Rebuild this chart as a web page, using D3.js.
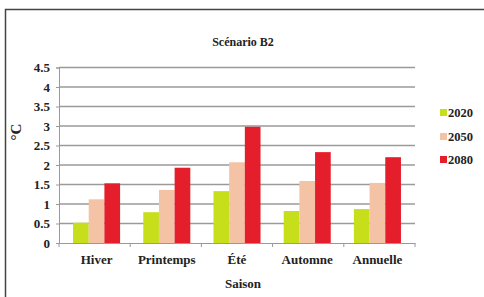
<!DOCTYPE html>
<html><head><meta charset="utf-8">
<script src="https://cdn.jsdelivr.net/npm/d3@7"></script>
<style>body{margin:0;background:#fff}svg{display:block}</style>
</head><body><svg id="c" width="484" height="297" font-family="Liberation Serif"></svg>
<script>
const categories = ["Hiver","Printemps","Été","Automne","Annuelle"];
const seriesNames = ["2020","2050","2080"];
const values2020 = [0.52,0.79,1.33,0.82,0.87];
const values2050 = [1.12,1.36,2.07,1.59,1.54];
const values2080 = [1.53,1.93,2.98,2.33,2.20];
const yTicks = [0,0.5,1,1.5,2,2.5,3,3.5,4,4.5];
const colors = ["#c6df1a","#f4c2a4","#e41e2a"];
const series = [values2020, values2050, values2080];
const FONT = "Liberation Serif";

const svg = d3.select("#c");
svg.append("rect").attr("x",5.5).attr("y",9.5).attr("width",490).attr("height",300)
  .attr("fill","none").attr("stroke","#444").attr("stroke-width",1.5);

const x0 = d3.scaleBand().domain(categories).range([59,415]).paddingInner(0.33).paddingOuter(0.2);
const x1 = d3.scaleBand().domain(seriesNames).range([0,x0.bandwidth()]);
const y = d3.scaleLinear().domain([0,4.5]).range([243,67.5]);

svg.append("g").selectAll("line").data(yTicks.filter(d=>d>0)).join("line")
  .attr("x1",59).attr("x2",415).attr("y1",d=>y(d)).attr("y2",d=>y(d))
  .attr("stroke","#9a9a9a").attr("stroke-width",1.3);

const g = svg.append("g");
categories.forEach((c,i)=>{
  series.forEach((s,j)=>{
    g.append("rect").attr("x",x0(c)+x1(seriesNames[j])).attr("width",x1.bandwidth())
      .attr("y",y(s[i])).attr("height",y(0)-y(s[i])).attr("fill",colors[j]);
  });
});

const ya = svg.append("g").attr("transform","translate(59,0)")
  .call(d3.axisLeft(y).tickValues(yTicks).tickSize(3).tickFormat(d=>String(d)));
ya.attr("font-family",FONT).attr("font-weight","bold").attr("font-size",13);
ya.select(".domain").attr("stroke","#999");
ya.selectAll(".tick line").attr("stroke","#999");
ya.selectAll("text").attr("x",-9).attr("fill","#222");

const xa = svg.append("g").attr("transform","translate(0,243)")
  .call(d3.axisBottom(x0).tickSize(0).tickPadding(12));
xa.attr("font-family",FONT).attr("font-weight","bold").attr("font-size",13);
xa.select(".domain").attr("stroke","#999");
xa.selectAll("text").attr("fill","#222");
svg.append("g").selectAll("line").data(d3.range(6)).join("line")
  .attr("x1",d=>59+d*(356/5)).attr("x2",d=>59+d*(356/5)).attr("y1",243).attr("y2",247).attr("stroke","#999");

const t = svg.append("g").attr("font-family",FONT).attr("font-weight","bold").attr("fill","#222");
t.append("text").attr("x",243).attr("y",46).attr("text-anchor","middle").attr("font-size",12).text("Scénario B2");
t.append("text").attr("x",243).attr("y",288).attr("text-anchor","middle").attr("font-size",13).text("Saison");
t.append("text").attr("transform","translate(21,132) rotate(-90)").attr("text-anchor","middle").attr("font-size",15).text("°C");

seriesNames.forEach((n,i)=>{
  const yy = [113,137,160][i];
  t.append("rect").attr("x",440).attr("y",yy-4).attr("width",7).attr("height",7).attr("fill",colors[i]);
  t.append("text").attr("x",448).attr("y",yy+4).attr("font-size",12.5).text(n);
});
</script></body></html>
